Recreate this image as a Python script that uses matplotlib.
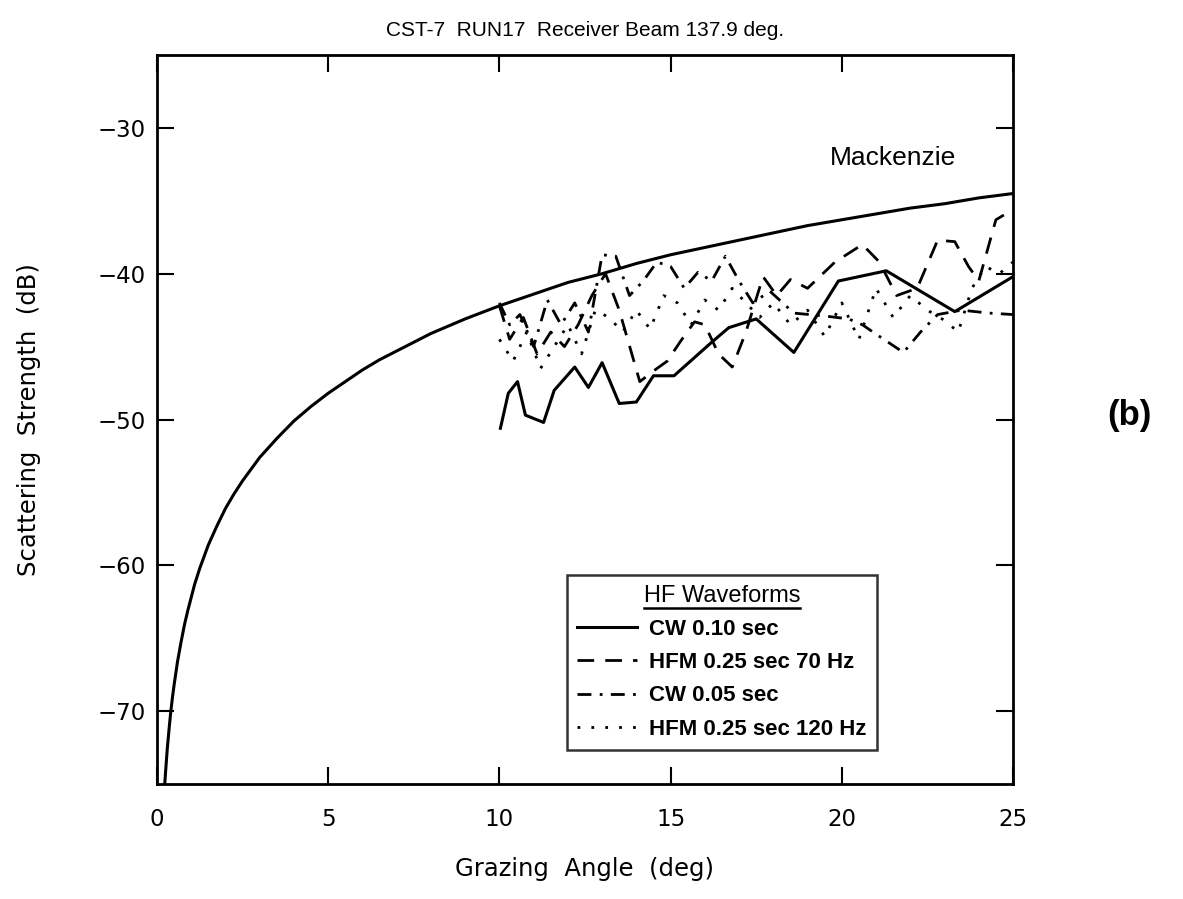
import matplotlib
matplotlib.use("Agg")
import matplotlib.pyplot as plt
from matplotlib.lines import Line2D

# Mackenzie (Lambert) curve
mack_x = [0.23, 0.25, 0.3, 0.35, 0.4, 0.45, 0.5, 0.6, 0.7, 0.8, 0.9, 1.0, 1.1, 1.25, 1.5,
          1.75, 2.0, 2.25, 2.5, 3.0, 3.5, 4.0, 4.5, 5.0, 5.5, 6.0, 6.5, 7.0, 7.5, 8.0, 9.0,
          10.0, 11.0, 12.0, 13.0, 14.0, 15.0, 16.0, 17.0, 18.0, 19.0, 20.0, 21.0, 22.0, 23.0,
          24.0, 25.0]
mack_y = [-74.9, -74.2, -72.6, -71.3, -70.1, -69.1, -68.2, -66.6, -65.3, -64.1, -63.1, -62.2,
          -61.3, -60.2, -58.6, -57.3, -56.1, -55.1, -54.2, -52.6, -51.3, -50.1, -49.1, -48.2,
          -47.4, -46.6, -45.9, -45.3, -44.7, -44.1, -43.1, -42.2, -41.4, -40.6, -40.0, -39.3,
          -38.7, -38.2, -37.7, -37.2, -36.7, -36.3, -35.9, -35.5, -35.2, -34.8, -34.5]

# CW 0.10 sec
cw10_x = [10.03, 10.26, 10.53, 10.76, 11.29, 11.6, 11.9, 12.2, 12.6, 13.0, 13.5, 14.0, 14.5,
          15.1, 16.2, 16.7, 17.5, 18.6, 19.9, 21.3, 23.3, 25.0]
cw10_y = [-50.6, -48.2, -47.4, -49.7, -50.2, -48.0, -47.2, -46.4, -47.8, -46.1, -48.9, -48.8,
          -47.0, -47.0, -44.7, -43.7, -43.1, -45.4, -40.5, -39.8, -42.6, -40.2]

# HFM 0.25 sec 70 Hz
hfm70_x = [10.0, 10.3, 10.7, 11.1, 11.5, 11.9, 12.3, 12.7, 13.1, 13.5, 14.1, 14.6, 14.9, 15.3,
           15.7, 16.0, 16.4, 16.8, 17.2, 17.7, 18.1, 18.5, 19.0, 19.8, 20.6, 21.1, 21.6, 22.2,
           22.8, 23.3, 23.7, 24.0, 24.5, 25.0]
hfm70_y = [-42.2, -44.5, -43.0, -45.5, -44.0, -45.0, -43.5, -41.5, -40.0, -42.5, -47.4, -46.5,
           -46.0, -44.6, -43.3, -43.5, -45.5, -46.4, -44.0, -40.2, -41.5, -40.4, -41.0, -39.2,
           -38.0, -39.2, -41.5, -41.0, -37.7, -37.8, -39.5, -40.5, -36.3, -35.6]

# CW 0.05 sec
cw05_x = [10.0, 10.3, 10.6, 11.0, 11.4, 11.8, 12.2, 12.6, 13.0, 13.4, 13.8, 14.2, 14.6, 15.0,
          15.4, 15.8, 16.2, 16.6, 17.0, 17.4, 17.9, 18.6, 19.5, 20.2, 20.6, 21.1, 21.8, 22.3,
          22.8, 23.5, 24.3, 25.0]
cw05_y = [-42.0, -43.5, -42.8, -45.0, -41.8, -43.5, -42.0, -44.0, -38.7, -38.8, -41.5, -40.5,
          -39.2, -39.5, -41.0, -39.9, -40.5, -38.8, -40.5, -42.0, -41.2, -42.7, -42.9, -43.1,
          -43.5, -44.3, -45.4, -44.0, -42.8, -42.5, -42.7, -42.8]

# HFM 0.25 sec 120 Hz
hfm120_x = [10.0, 10.4, 10.8, 11.2, 11.6, 12.0, 12.4, 12.8, 13.2, 13.6, 14.0, 14.4, 14.8, 15.2,
            15.6, 16.0, 16.4, 16.8, 17.2, 17.6, 18.0, 18.5, 19.0, 19.5, 20.0, 20.5, 21.0, 21.5,
            22.0, 22.5, 23.0, 23.4, 23.8, 24.2, 24.6, 25.0]
hfm120_y = [-44.5, -46.0, -44.0, -46.5, -45.0, -43.5, -45.5, -42.5, -43.0, -44.0, -42.5, -43.8,
            -41.5, -42.0, -43.5, -41.8, -42.5, -41.0, -42.0, -43.0, -42.0, -43.5, -42.5, -44.3,
            -42.0, -44.5, -41.0, -43.0, -41.5, -42.5, -43.2, -44.0, -41.0, -39.5, -40.0, -39.2]

legend_labels = ['CW 0.10 sec', 'HFM 0.25 sec 70 Hz', 'CW 0.05 sec', 'HFM 0.25 sec 120 Hz']

fig = plt.figure(figsize=(11.83, 8.99), dpi=100)
ax = fig.add_axes([0.1327, 0.1279, 0.7236, 0.8109])

ax.plot(mack_x, mack_y, color='black', lw=2.2)
l1, = ax.plot(cw10_x, cw10_y, color='black', lw=2.2, ls='-')
l2, = ax.plot(hfm70_x, hfm70_y, color='black', lw=2.0, ls=(0, (6, 4)))
l3, = ax.plot(cw05_x, cw05_y, color='black', lw=2.0, ls=(0, (5, 3, 1, 3)))
l4, = ax.plot(hfm120_x, hfm120_y, color='black', lw=2.0, ls=(0, (1, 4)))

ax.set_xlim(0, 25)
ax.set_ylim(-75, -25)
ax.set_xticks([0, 5, 10, 15, 20, 25])
ax.set_yticks([-70, -60, -50, -40, -30])

ax.tick_params(direction='in', length=12, width=1.5, top=True, right=True, labelsize=16.5)
ax.tick_params(axis='x', pad=17)
ax.tick_params(axis='y', pad=8)
for s in ax.spines.values():
    s.set_linewidth(2)

ax.set_xlabel('Grazing  Angle  (deg)', fontsize=17.5)
ax.set_ylabel('Scattering  Strength  (dB)', fontsize=17.5)
ax.xaxis.set_label_coords(0.5, -0.10)
ax.yaxis.set_label_coords(-0.135, 0.5)

ax.set_title('CST-7  RUN17  Receiver Beam 137.9 deg.', fontsize=15,
             family='Liberation Sans', pad=14)

ax.text(21.5, -32.05, 'Mackenzie', fontsize=19, family='Liberation Sans',
        ha='center', va='center')
fig.text(0.955, 0.538, '(b)', fontsize=25, fontweight='bold', family='Liberation Sans',
         ha='center', va='center')

leg = ax.legend([l1, l2, l3, l4], legend_labels, loc='upper left',
                bbox_to_anchor=(0.479, 0.287), borderaxespad=0, frameon=True, fancybox=False,
                edgecolor='black', handlelength=2.7, handletextpad=0.55, labelspacing=0.55,
                borderpad=0.45, title='HF Waveforms',
                prop={'family': 'Liberation Sans', 'weight': 'bold', 'size': 16})
leg.get_frame().set_linewidth(1.8)
leg.get_title().set_fontsize(17)
leg.get_title().set_family('Liberation Sans')

# underline legend title
fig.canvas.draw()
bb = leg.get_title().get_window_extent().transformed(fig.transFigure.inverted())
fig.add_artist(Line2D([bb.x0, bb.x1], [bb.y0 - 0.001, bb.y0 - 0.001],
                      transform=fig.transFigure, color='black', lw=1.8))

plt.savefig('out.png', dpi=100)
